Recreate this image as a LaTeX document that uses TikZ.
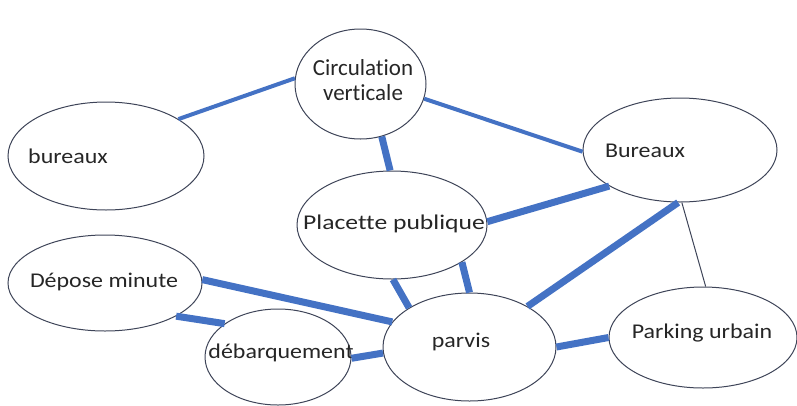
\documentclass[tikz,border=0pt]{standalone}
\usepackage{fontspec}
\setmainfont{Carlito}[Ligatures=NoCommon]
\usetikzlibrary{shapes.geometric}

\definecolor{linkblue}{RGB}{68,114,196}
\definecolor{rimgray}{RGB}{62,68,88}
\definecolor{inkgray}{RGB}{38,38,38}

\newcommand{\wide}[1]{\scalebox{1.14}[1]{#1}}

\tikzset{
  zone/.style={ellipse, draw=rimgray, line width=1pt, inner sep=0pt},
  lbl/.style={anchor=base, text=inkgray, font=\fontsize{21}{25}\selectfont},
  link/.style={linkblue, line width=7pt},
  thinlink/.style={linkblue, line width=4pt},
  hairlink/.style={rimgray, line width=1pt}
}

\begin{document}
\begin{tikzpicture}[x=1pt,y=1pt]
\tikzstyle{every node}+=[inner sep=0pt]
\useasboundingbox (0,0) rectangle (797,-405);
\node [zone, minimum width=131, minimum height=110] (cv) at (360.5,-84) {};
\node [text=inkgray, align=center, font=\fontsize{23}{25}\selectfont] (cvt) at (363,-80) {Circulation\\verticale};
\node [zone, minimum width=196, minimum height=108] (bl) at (106,-156) {};
\node [lbl] (blt) at (68,-163) {\wide{bureaux}};
\node [zone, minimum width=194, minimum height=104] (br) at (680,-150) {};
\node [lbl] (brt) at (645,-157) {\wide{Bureaux}};
\node [zone, minimum width=190, minimum height=108] (pp) at (392,-225) {};
\node [lbl] (ppt) at (394,-229) {\scalebox{1.22}[1]{Placette publique}};
\node [zone, minimum width=194, minimum height=96] (dm) at (105,-283) {};
\node [lbl] (dmt) at (104,-287) {\wide{Dépose minute}};
\node [zone, minimum width=146, minimum height=96] (db) at (278,-357) {};
\node [lbl] (dbt) at (281,-358) {\wide{débarquement}};
\node [zone, minimum width=173, minimum height=108] (pv) at (469.5,-347) {};
\node [lbl] (pvt) at (461,-347) {\wide{parvis}};
\node [zone, minimum width=188, minimum height=101] (pk) at (703,-337.5) {};
\node [lbl] (pkt) at (702,-338) {\wide{Parking urbain}};
\draw [thinlink] (bl.27) -- (cv.175);
\draw [thinlink] (cv.-13) -- (br.181);
\draw [link] (cv.-68) -- (pp.92);
\draw [link] (pp.2) -- (br.207);
\draw [link] (pp.-89) -- (pv.147);
\draw [link] (pp.-28.5) -- (pv.90);
\draw [link] (br.-92) -- (pv.35);
\draw [hairlink] (br.-88) -- (pk.87);
\draw [link] (dm.2) -- (pv.162);
\draw [link] (dm.-25) -- (db.148);
\draw [link] (db.-1) -- (pv.184);
\draw [link] (pv.0) -- (pk.180);
\end{tikzpicture}
\end{document}
